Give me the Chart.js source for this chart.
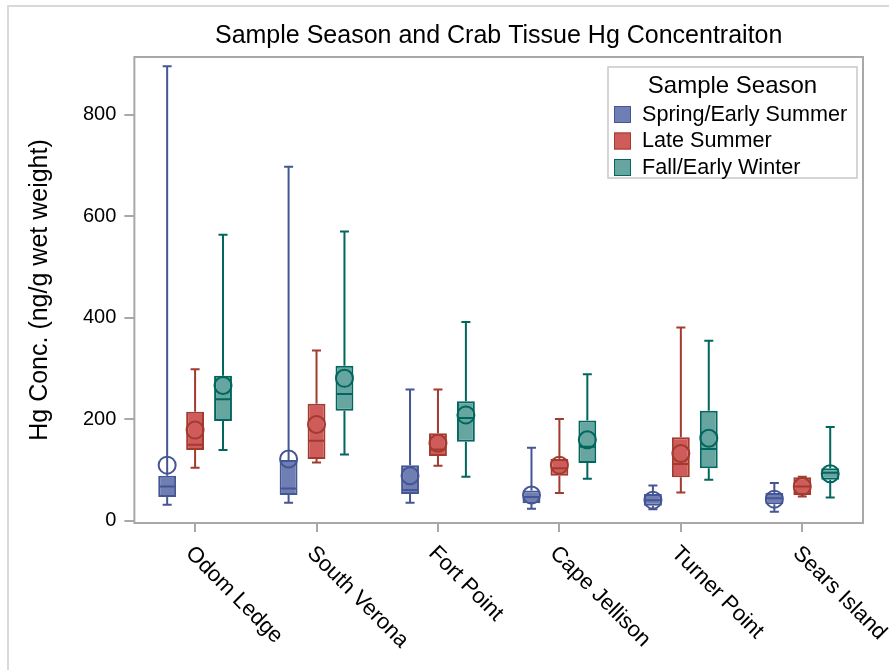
<!DOCTYPE html>
<html>
<head>
<meta charset="utf-8">
<title>Sample Season and Crab Tissue Hg Concentraiton</title>
<script src="https://cdn.jsdelivr.net/npm/chart.js@4.4.1/dist/chart.umd.min.js"></script>
<style>
  html, body { margin: 0; padding: 0; background: #fff; }
  #wrap { position: relative; width: 889px; height: 670px; overflow: hidden; }
  #frame { position: absolute; left: 7px; top: 5px; right: -4px; bottom: -4px; border-left: 2px solid #d9d9d9; border-top: 2px solid #d9d9d9; }
  canvas { position: absolute; left: 0; top: 0; }
</style>
</head>
<body>
<div id="wrap">
  <div id="frame"></div>
  <canvas id="hgChart" width="889" height="670"></canvas>
</div>
<script>
const chartTitle = "Sample Season and Crab Tissue Hg Concentraiton";
const yTitle = "Hg Conc. (ng/g wet weight)";
const legendTitle = "Sample Season";

const sites = ["Odom Ledge", "South Verona", "Fort Point", "Cape Jellison", "Turner Point", "Sears Island"];
const seasons = ["Spring/Early Summer", "Late Summer", "Fall/Early Winter"];
const yTicks = [0, 200, 400, 600, 800];

// Spring/Early Summer
const springMin = [32, 36, 36, 24, 23, 18];
const springQ1 = [47, 51, 53, 35, 30, 33];
const springMedian = [68, 64, 61, 47, 41, 45];
const springQ3 = [89, 120, 110, 60, 53, 55];
const springMax = [896, 698, 259, 144, 70, 75];
const springMean = [110, 122, 89, 51, 41, 43];

// Late Summer
const lateMin = [105, 115, 109, 55, 56, 48];
const lateQ1 = [140, 122, 128, 89, 86, 51];
const lateMedian = [150, 158, 141, 104, 112, 68];
const lateQ3 = [215, 231, 173, 122, 165, 86];
const lateMax = [299, 336, 259, 201, 381, 87];
const lateMean = [179, 190, 153, 110, 133, 68];

// Fall/Early Winter
const fallMin = [140, 131, 87, 83, 81, 46];
const fallQ1 = [197, 217, 156, 114, 104, 81];
const fallMedian = [240, 250, 203, 146, 142, 95];
const fallQ3 = [286, 306, 236, 198, 217, 104];
const fallMax = [564, 570, 392, 289, 355, 185];
const fallMean = [267, 281, 209, 160, 163, 93];

const fillColors = ["#6f7eb3", "#d05b5b", "#66a5a0"];
const lineColors = ["#445694", "#a23a2e", "#01665e"];
const fontFamily = '"Liberation Sans", Arial, sans-serif';

function makeSet(idx, mins, q1s, meds, q3s, maxs, means) {
  return {
    label: seasons[idx],
    data: sites.map((s, i) => [q1s[i], q3s[i]]),
    backgroundColor: fillColors[idx],
    borderColor: lineColors[idx],
    borderWidth: 2,
    borderSkipped: false,
    stats: { min: mins, median: meds, max: maxs, mean: means },
  };
}

// whiskers, caps, median line and hollow mean circle on top of the floating bars
const boxWhiskers = {
  id: "boxWhiskers",
  afterDatasetsDraw(chart) {
    const ctx = chart.ctx;
    const yScale = chart.scales.y;
    chart.data.datasets.forEach((ds, di) => {
      const meta = chart.getDatasetMeta(di);
      meta.data.forEach((bar, i) => {
        const x = bar.x;
        const half = bar.width / 2;
        const cap = 4.5;
        const q1 = yScale.getPixelForValue(ds.data[i][0]);
        const q3 = yScale.getPixelForValue(ds.data[i][1]);
        const yMin = yScale.getPixelForValue(ds.stats.min[i]);
        const yMax = yScale.getPixelForValue(ds.stats.max[i]);
        const yMed = yScale.getPixelForValue(ds.stats.median[i]);
        const yMean = yScale.getPixelForValue(ds.stats.mean[i]);
        ctx.save();
        ctx.strokeStyle = ds.borderColor;
        ctx.lineWidth = 2;
        ctx.beginPath();
        ctx.moveTo(x, q3); ctx.lineTo(x, yMax);
        ctx.moveTo(x, q1); ctx.lineTo(x, yMin);
        ctx.moveTo(x - cap, yMax); ctx.lineTo(x + cap, yMax);
        ctx.moveTo(x - cap, yMin); ctx.lineTo(x + cap, yMin);
        ctx.moveTo(x - half + 1, yMed); ctx.lineTo(x + half - 1, yMed);
        ctx.stroke();
        ctx.beginPath();
        ctx.arc(x, yMean, 8.5, 0, Math.PI * 2);
        ctx.stroke();
        ctx.restore();
      });
    });
  },
};

// plot frame, title, rotated site labels and the inset legend
const decorations = {
  id: "decorations",
  beforeDatasetsDraw(chart) {
    const { ctx, chartArea } = chart;
    ctx.save();
    ctx.strokeStyle = "#a8a8a8";
    ctx.lineWidth = 2;
    ctx.strokeRect(chartArea.left, chartArea.top, chartArea.right - chartArea.left, chartArea.bottom - chartArea.top);
    ctx.restore();
  },
  afterDraw(chart) {
    const { ctx, chartArea } = chart;
    const xScale = chart.scales.x;
    ctx.save();
    ctx.fillStyle = "#000";
    ctx.font = "25px " + fontFamily;
    ctx.textAlign = "center";
    ctx.textBaseline = "middle";
    ctx.fillText(chartTitle, (chartArea.left + chartArea.right) / 2, 36);

    ctx.font = "22px " + fontFamily;
    ctx.textAlign = "left";
    sites.forEach((s, i) => {
      const px = xScale.getPixelForTick(i);
      ctx.save();
      ctx.translate(px - 6, xScale.top + 27);
      ctx.rotate(Math.PI / 4);
      ctx.fillText(s, 0, 0);
      ctx.restore();
    });

    const w = 249, h = 111;
    const lx = chartArea.right - 255;
    const ly = chartArea.top + 10;
    ctx.strokeStyle = "#c8c8c8";
    ctx.lineWidth = 1.5;
    ctx.strokeRect(lx, ly, w, h);
    ctx.font = "24px " + fontFamily;
    ctx.textAlign = "center";
    ctx.fillText(legendTitle, lx + w / 2, ly + 19);
    ctx.font = "21.6px " + fontFamily;
    ctx.textAlign = "left";
    seasons.forEach((s, k) => {
      const ry = ly + 47 + k * 26.5;
      ctx.fillStyle = fillColors[k];
      ctx.fillRect(lx + 6, ry - 8, 17, 17);
      ctx.strokeStyle = lineColors[k];
      ctx.lineWidth = 1;
      ctx.strokeRect(lx + 6.5, ry - 7.5, 16, 16);
      ctx.fillStyle = "#000";
      ctx.fillText(s, lx + 34, ry + 1);
    });
    ctx.restore();
  },
};

const hgChart = new Chart(document.getElementById("hgChart"), {
  type: "bar",
  data: {
    labels: sites,
    datasets: [
      makeSet(0, springMin, springQ1, springMedian, springQ3, springMax, springMean),
      makeSet(1, lateMin, lateQ1, lateMedian, lateQ3, lateMax, lateMean),
      makeSet(2, fallMin, fallQ1, fallMedian, fallQ3, fallMax, fallMean),
    ],
  },
  options: {
    responsive: false,
    animation: false,
    devicePixelRatio: 1,
    categoryPercentage: 0.69,
    barPercentage: 0.64,
    layout: { padding: { top: 57, left: 25, right: 26, bottom: 138 } },
    plugins: {
      legend: { display: false },
      tooltip: { enabled: false },
      title: { display: false },
    },
    scales: {
      x: {
        border: { display: false },
        grid: { offset: false, drawOnChartArea: false, drawTicks: true, tickLength: 9, color: "#a8a8a8", lineWidth: 2 },
        ticks: { display: false },
      },
      y: {
        min: -4,
        max: 914,
        border: { display: false },
        afterBuildTicks: (scale) => { scale.ticks = yTicks.map((v) => ({ value: v })); },
        grid: { drawOnChartArea: false, drawTicks: true, tickLength: 10, color: "#a8a8a8", lineWidth: 2 },
        ticks: { color: "#000", padding: 8, font: { family: fontFamily, size: 20 } },
        title: {
          display: true,
          text: yTitle,
          color: "#000",
          font: { family: fontFamily, size: 25 },
          padding: { top: 0, bottom: 20 },
        },
      },
    },
  },
  plugins: [boxWhiskers, decorations],
});
</script>
</body>
</html>
